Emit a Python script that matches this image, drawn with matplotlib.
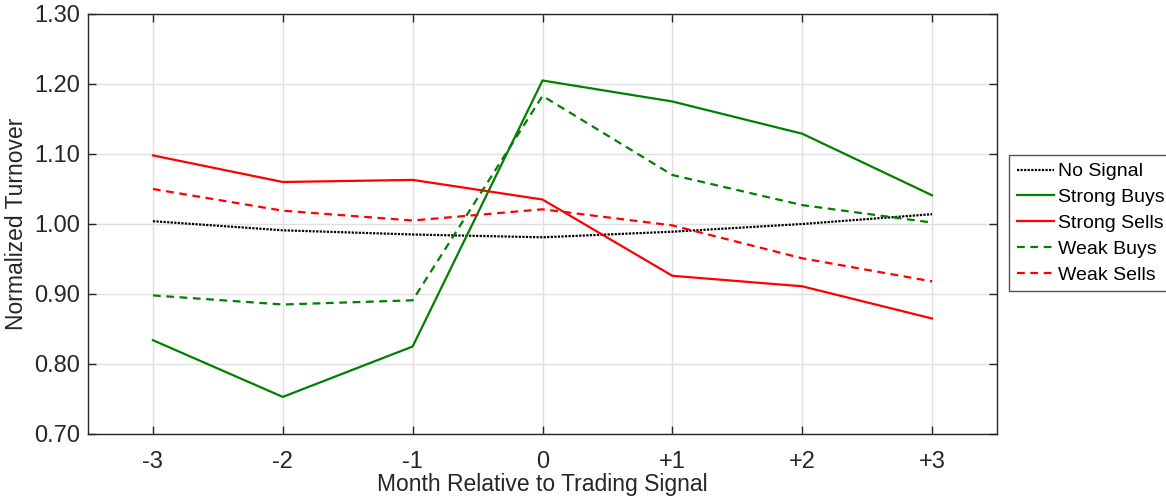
import matplotlib
matplotlib.use("Agg")
import matplotlib.pyplot as plt

months = [-3, -2, -1, 0, 1, 2, 3]
tick_labels = ["-3", "-2", "-1", "0", "+1", "+2", "+3"]
no_signal = [1.004, 0.991, 0.985, 0.981, 0.989, 1.000, 1.014]
strong_buys = [0.834, 0.753, 0.825, 1.205, 1.175, 1.129, 1.041]
strong_sells = [1.098, 1.060, 1.063, 1.035, 0.926, 0.911, 0.865]
weak_buys = [0.898, 0.885, 0.891, 1.183, 1.070, 1.027, 1.002]
weak_sells = [1.050, 1.019, 1.005, 1.021, 0.998, 0.951, 0.918]
y_ticks = [0.70, 0.80, 0.90, 1.00, 1.10, 1.20, 1.30]

plt.rcParams['font.family'] = ['Liberation Sans', 'DejaVu Sans']

fig = plt.figure(figsize=(11.66, 5.01), dpi=100)
ax = fig.add_axes([88/1166, 67/501, (997-88)/1166, (434-14)/501])

lw = 1.6
ax.plot(months, no_signal, color='black', linestyle=(0, (1, 0.6)), lw=lw, label='No Signal')
ax.plot(months, strong_buys, color='#008000', linestyle='-', lw=lw, label='Strong Buys')
ax.plot(months, strong_sells, color='#ff0000', linestyle='-', lw=lw, label='Strong Sells')
ax.plot(months, weak_buys, color='#008000', linestyle=(0, (3.5, 2.5)), lw=lw, label='Weak Buys')
ax.plot(months, weak_sells, color='#ff0000', linestyle=(0, (3.5, 2.5)), lw=lw, label='Weak Sells')

ax.set_xlim(-3.5, 3.5)
ax.set_ylim(0.70, 1.30)
ax.set_xticks(months)
ax.set_xticklabels(tick_labels)
ax.set_yticks(y_ticks)
ax.set_yticklabels([f"{v:.2f}" for v in y_ticks])
ax.grid(True, color='#e0e0e0', lw=1)
ax.set_axisbelow(True)
ax.tick_params(direction='in', length=6, width=1, colors='#262626', labelsize=17,
               top=True, right=True)
ax.tick_params(axis='x', pad=12)
ax.tick_params(axis='y', pad=6)
for s in ax.spines.values():
    s.set_color('#262626')
    s.set_linewidth(1)
ax.set_xlabel('Month Relative to Trading Signal', fontsize=16.5, color='#262626', labelpad=0)
ax.set_ylabel('Normalized Turnover', fontsize=16.5, color='#262626')
ax.yaxis.set_label_coords((28 - 88) / 909, 0.5)

leg = ax.legend(loc='upper left', bbox_to_anchor=(1009/1166, 346/501), bbox_transform=fig.transFigure,
                fontsize=14, frameon=True, fancybox=False, edgecolor='#262626',
                handlelength=1.9, handletextpad=0.2, borderpad=0.4, labelspacing=0.42,
                borderaxespad=0)
leg.get_frame().set_linewidth(1)

fig.savefig('out.png', dpi=100)
